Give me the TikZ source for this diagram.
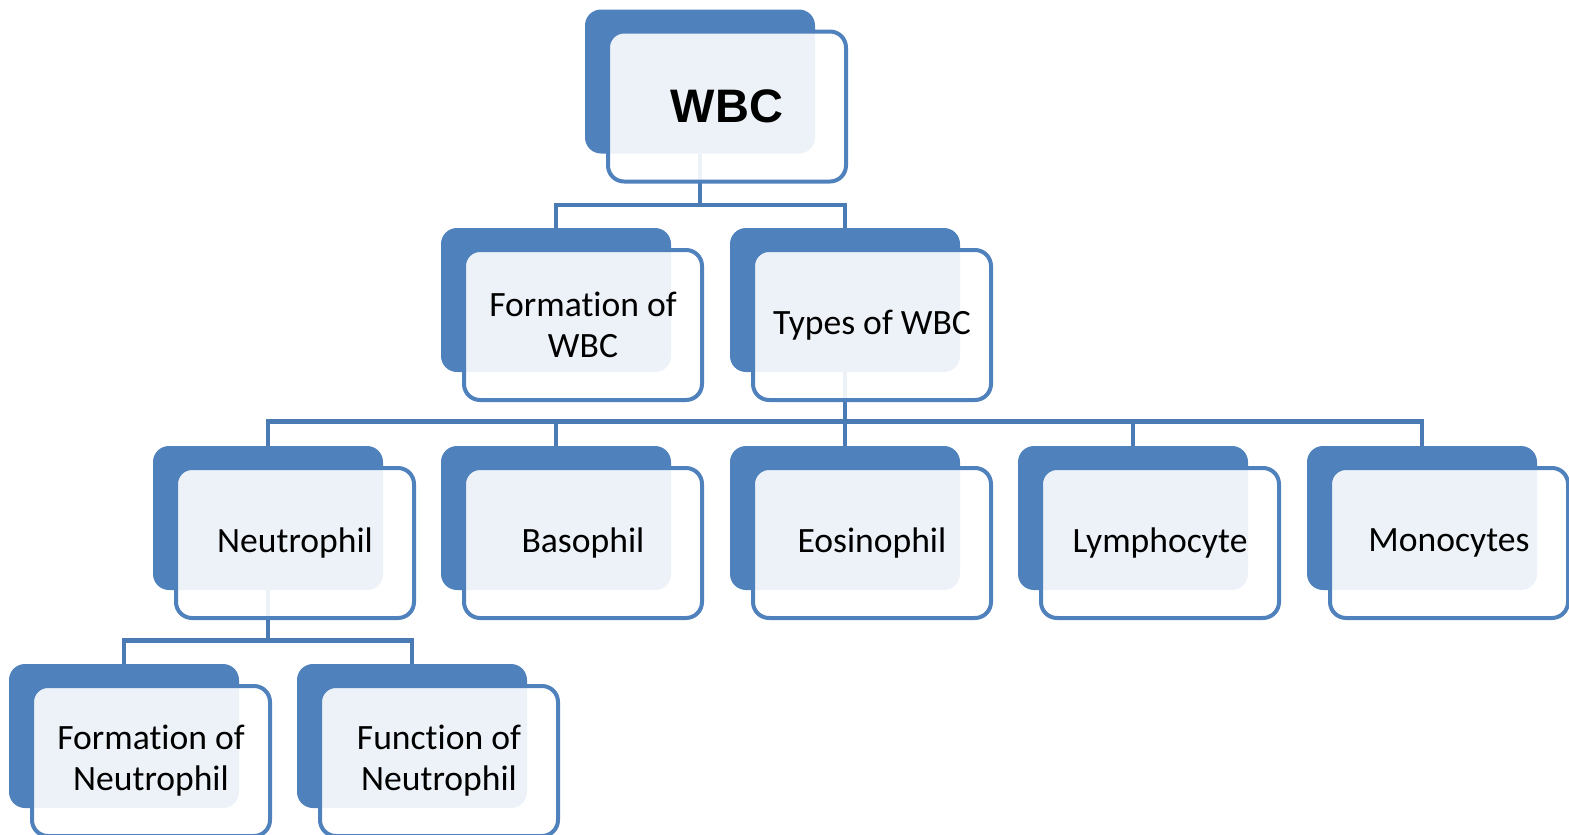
\documentclass[tikz,border=0pt]{standalone}
\usepackage{fontspec}
\setmainfont[Ligatures=NoCommon]{Carlito}
\newfontfamily\wbcheavy{Liberation Sans}
\usepackage{tikz}
\usetikzlibrary{positioning}
\definecolor{wbcblue}{HTML}{4F81BD}
\tikzset{
  wbcshadow/.style={
    fill=wbcblue,
    rounded corners=8pt,
    inner sep=0pt,
    minimum width=115pt,
    minimum height=72pt
  },
  wbccard/.style={
    draw=wbcblue,line width=2pt,
    fill=white,fill opacity=0.9,text opacity=1,
    rounded corners=8pt,
    align=center,
    inner sep=2pt,
    minimum width=119pt,
    minimum height=75pt,
    font=\fontsize{17.8}{20.5}\selectfont
  },
  wbclink/.style={draw=wbcblue!95!black,line width=2.2pt}
}

\begin{document}
\begin{tikzpicture}[x=0.5pt,y=-0.5pt]
  \useasboundingbox (0,0) rectangle (1569,835);

  % back plates
  \node[wbcshadow] (wbcb) at (700,81.5) {};
  \node[wbcshadow] (formb) at (556,300) {};
  \node[wbcshadow] (typesb) at (845,300) {};
  \node[wbcshadow] (neub) at (268,518) {};
  \node[wbcshadow] (basob) at (556,518) {};
  \node[wbcshadow] (eosb) at (845,518) {};
  \node[wbcshadow] (lymphb) at (1133,518) {};
  \node[wbcshadow] (monob) at (1422,518) {};
  \node[wbcshadow] (fneub) at (124,736) {};
  \node[wbcshadow] (funcb) at (412,736) {};

  % links
  \foreach \kid in {formb,typesb}
    \draw[wbclink] (wbcb.south) -- ++(0,51) -| (\kid.north);
  \foreach \kid in {neub,basob,eosb,lymphb,monob}
    \draw[wbclink] (typesb.south) -- ++(0,49) -| (\kid.north);
  \foreach \kid in {fneub,funcb}
    \draw[wbclink] (neub.south) -- ++(0,50) -| (\kid.north);

  % cards
  \node[wbccard] (wbc) at ([shift={(27,25)}]wbcb.center)
    {\wbcheavy\bfseries\fontsize{23.5}{26}\selectfont WBC};
  \node[wbccard] (form) at ([shift={(27,25)}]formb.center) {Formation of\\WBC};
  \node[wbccard] (types) at ([shift={(27,25)}]typesb.center) {Types of WBC};
  \node[wbccard] (neu) at ([shift={(27,25)}]neub.center) {Neutrophil};
  \node[wbccard] (baso) at ([shift={(27,25)}]basob.center) {Basophil};
  \node[wbccard] (eos) at ([shift={(27,25)}]eosb.center) {Eosinophil};
  \node[wbccard] (lymph) at ([shift={(27,25)}]lymphb.center) {Lymphocyte};
  \node[wbccard] (mono) at ([shift={(27,25)}]monob.center) {Monocytes};
  \node[wbccard] (fneu) at ([shift={(27,25)}]fneub.center) {Formation of\\Neutrophil};
  \node[wbccard] (func) at ([shift={(27,25)}]funcb.center) {Function of\\Neutrophil};
\end{tikzpicture}
\end{document}
